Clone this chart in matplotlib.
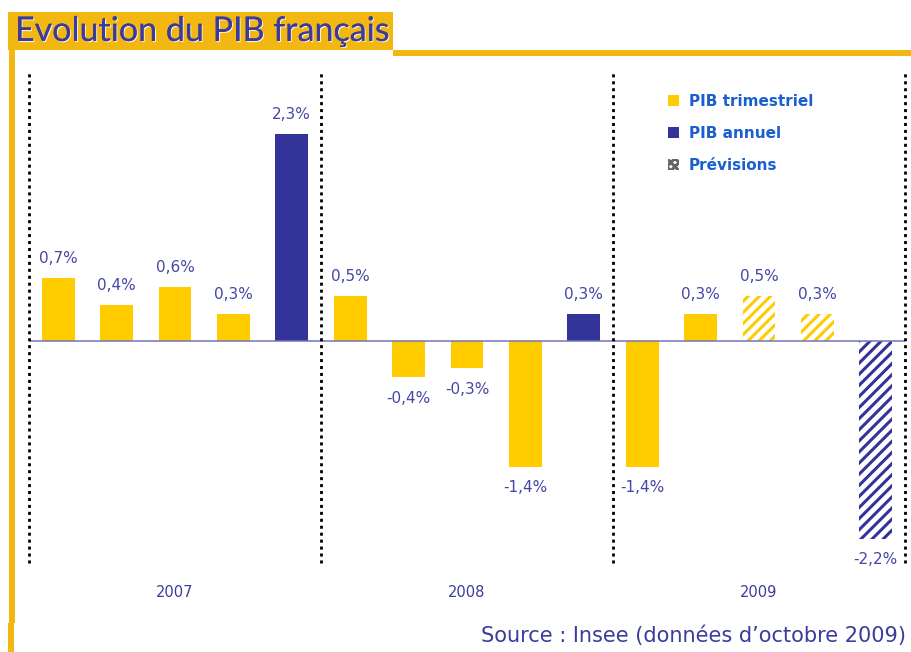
import matplotlib
matplotlib.use("Agg")
import matplotlib.pyplot as plt
from matplotlib.patches import Rectangle, Patch
import matplotlib.patheffects as pe

# ---- data ----
years = ["2007", "2008", "2009"]
values = [0.7, 0.4, 0.6, 0.3, 2.3,
          0.5, -0.4, -0.3, -1.4, 0.3,
          -1.4, 0.3, 0.5, 0.3, -2.2]
kinds = ["q", "q", "q", "q", "a",
         "q", "q", "q", "q", "a",
         "q", "q", "q", "q", "a"]
forecast = [False] * 12 + [True, True, True]
legend_labels = ["PIB trimestriel", "PIB annuel", "Prévisions"]
title = "Evolution du PIB français"
source = "Source : Insee (données d\u2019octobre 2009)"

YELLOW = "#FFCC00"
NAVY = "#333399"
GOLD = "#F2B710"
TXT = "#4646A6"

plt.rcParams["hatch.linewidth"] = 2.2
plt.rcParams["lines.scale_dashes"] = False

W, H = 912, 652
fig = plt.figure(figsize=(W / 100, H / 100), dpi=100)
fig.patch.set_facecolor("white")

def fx(px):
    return px / W

def fy(py):
    return 1 - py / H

# gold frame
for (x0, y0, x1, y1) in [(8, 12, 393, 50), (393, 50, 912, 56),
                         (9, 50, 15, 623), (8, 623, 14, 652)]:
    fig.patches.append(Rectangle((fx(x0), fy(y1)), fx(x1) - fx(x0), fy(y0) - fy(y1),
                                 transform=fig.transFigure, facecolor=GOLD,
                                 edgecolor="none", zorder=0))

fig.text(fx(15), fy(31), title, fontsize=24.5, color="#3B3B9E", va="center", ha="left",
         family=["Lato", "DejaVu Sans"],
         path_effects=[pe.withSimplePatchShadow(offset=(0.8, -0.8), shadow_rgbFace="white", alpha=0.8),
                       pe.Normal()])

ax = fig.add_axes([fx(29), fy(563), fx(905) - fx(29), fy(72) - fy(563)])
ax.set_xlim(-0.5, 14.5)
ax.set_ylim(-2.467, 2.99)
ax.axis("off")

xs = list(range(len(values)))
for x, v, k, f in zip(xs, values, kinds, forecast):
    c = YELLOW if k == "q" else NAVY
    if f:
        ax.bar(x, v, width=0.565, facecolor="white", edgecolor=c, hatch="///",
               linewidth=0, zorder=2)
    else:
        ax.bar(x, v, width=0.565, color=c, linewidth=0, zorder=2)
    lab = f"{v:.1f}%".replace(".", ",")
    off = 20 if v >= 0 else -21
    ax.annotate(lab, (x, v), xytext=(0, off * 0.72), textcoords="offset points",
                ha="center", va="center", fontsize=11, color=TXT, zorder=4)

ax.axhline(0, color="#7474BA", lw=1.1, zorder=3)

for xd in [-0.5, 4.5, 9.5, 14.5]:
    ax.vlines(xd, -2.467, 2.99, colors="black", lw=2, linestyles=(0, (2.2, 2.8)),
              clip_on=False, zorder=3)

for i, yr in enumerate(years):
    ax.text(2 + 5 * i, -2.8, yr, ha="center", va="center", fontsize=10.5,
            color="#3C3C9A", clip_on=False)

handles = [Patch(facecolor=YELLOW, edgecolor="none"),
           Patch(facecolor=NAVY, edgecolor="none"),
           Patch(facecolor="white", edgecolor="#666666", hatch="xxxx", linewidth=0)]
leg = fig.legend(handles, legend_labels, loc="upper left",
                 bbox_to_anchor=(fx(668), fy(94)), bbox_transform=fig.transFigure,
                 frameon=False, borderpad=0, borderaxespad=0,
                 handlelength=0.75, handleheight=0.7, handletextpad=0.6,
                 labelspacing=1.1, prop={"size": 11, "weight": "bold"},
                 labelcolor="#1A5FD0")

fig.text(fx(906), fy(636), source, ha="right", va="center", fontsize=15,
         color="#3C3C9A")

fig.savefig("out.png", dpi=100, facecolor="white")
